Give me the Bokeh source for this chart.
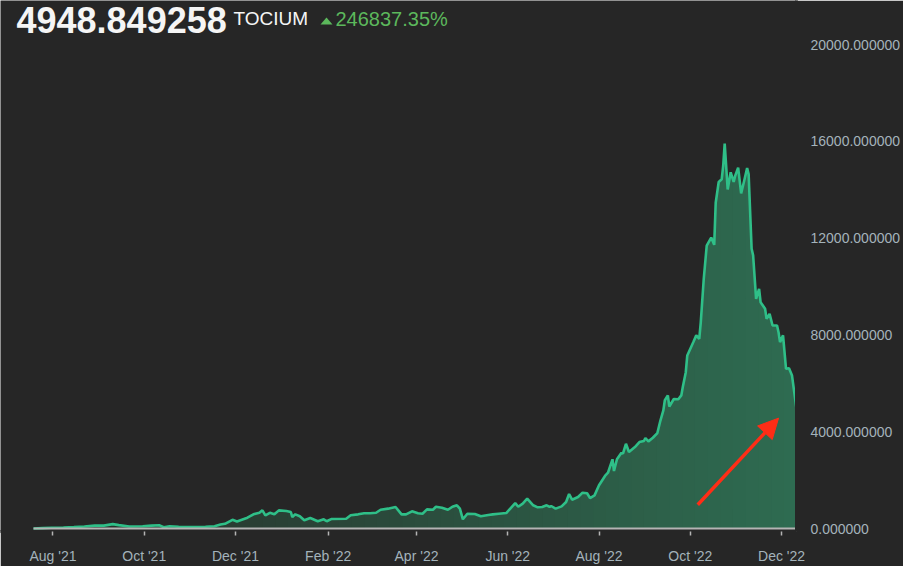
import numpy as np
import pandas as pd
from bokeh.plotting import figure
from bokeh.models import (Range1d, FixedTicker, DatetimeTickFormatter, PrintfTickFormatter,
                          Label, Arrow, NormalHead, PolyAnnotation)
from bokeh.embed import file_html
from bokeh.resources import INLINE

# price history
dates = [
    "2021-07-19", "2021-07-25", "2021-07-31", "2021-08-08", "2021-08-15", "2021-08-22", "2021-08-29",
    "2021-09-04", "2021-09-10", "2021-09-14", "2021-09-21", "2021-09-30",
    "2021-10-06", "2021-10-11", "2021-10-14", "2021-10-18", "2021-10-24", "2021-10-31",
    "2021-11-11", "2021-11-17", "2021-11-21", "2021-11-24", "2021-11-29",
    "2021-12-02", "2021-12-09", "2021-12-13", "2021-12-17", "2021-12-19", "2021-12-21", "2021-12-24",
    "2021-12-27", "2021-12-30",
    "2022-01-04", "2022-01-07", "2022-01-08", "2022-01-10", "2022-01-13", "2022-01-16", "2022-01-20",
    "2022-01-25", "2022-01-29", "2022-01-31",
    "2022-02-03", "2022-02-13", "2022-02-16", "2022-02-21", "2022-02-25",
    "2022-03-01", "2022-03-05", "2022-03-08", "2022-03-13", "2022-03-18", "2022-03-22", "2022-03-25",
    "2022-03-29",
    "2022-04-02", "2022-04-05", "2022-04-08", "2022-04-12", "2022-04-14", "2022-04-18", "2022-04-22",
    "2022-04-25", "2022-04-28", "2022-04-30",
    "2022-05-02", "2022-05-05", "2022-05-10", "2022-05-14", "2022-05-19", "2022-05-22", "2022-05-26",
    "2022-05-31",
    "2022-06-03", "2022-06-06", "2022-06-08", "2022-06-11", "2022-06-14", "2022-06-18", "2022-06-21",
    "2022-06-24", "2022-06-27", "2022-06-29", "2022-06-30",
    "2022-07-03", "2022-07-07", "2022-07-10", "2022-07-12", "2022-07-14", "2022-07-18", "2022-07-21",
    "2022-07-24", "2022-07-26", "2022-07-29",
    "2022-08-01", "2022-08-05", "2022-08-07", "2022-08-10", "2022-08-11", "2022-08-13", "2022-08-16",
    "2022-08-17", "2022-08-19", "2022-08-21", "2022-08-25", "2022-08-28", "2022-08-31",
    "2022-09-01", "2022-09-03", "2022-09-06", "2022-09-09", "2022-09-11", "2022-09-13", "2022-09-14",
    "2022-09-16", "2022-09-17", "2022-09-20", "2022-09-23", "2022-09-25", "2022-09-26", "2022-09-28",
    "2022-09-29",
    "2022-10-03", "2022-10-05", "2022-10-07", "2022-10-08", "2022-10-10", "2022-10-12", "2022-10-15",
    "2022-10-17", "2022-10-18", "2022-10-20", "2022-10-22", "2022-10-23", "2022-10-24", "2022-10-26",
    "2022-10-28", "2022-10-30", "2022-10-31",
    "2022-11-02", "2022-11-04", "2022-11-06", "2022-11-08", "2022-11-09", "2022-11-11", "2022-11-12",
    "2022-11-14", "2022-11-16", "2022-11-17", "2022-11-20", "2022-11-21", "2022-11-23", "2022-11-25",
    "2022-11-28", "2022-11-29", "2022-11-30",
    "2022-12-02", "2022-12-04", "2022-12-06", "2022-12-08", "2022-12-11",
]
prices = [
    2, 15, 28, 40, 55, 80, 120,
    120, 180, 140, 80, 95,
    120, 135, 55, 95, 70, 55,
    70, 95, 165, 195, 360,
    290, 445, 585, 650, 750, 545, 650, 585, 750,
    720, 680, 475, 585, 505, 340, 435, 300, 380, 300,
    390, 405, 545, 585, 630,
    630, 650, 775, 820, 890, 585, 585, 710,
    630, 610, 790, 775, 900, 860, 775, 900, 960, 820,
    380, 610, 600, 505, 560, 585, 610, 640,
    845, 1050, 900, 1025, 1230, 960, 875, 890, 960, 890, 930,
    820, 915, 1095, 1425, 1190, 1300, 1480, 1455, 1260, 1370,
    1785, 2170, 2305, 2860, 2375, 2860, 3130, 3090, 3500, 3160, 3365, 3570, 3615,
    3740, 3600, 3750, 3945, 4450, 4880, 5300, 5500, 5040, 5350, 5340, 5500, 5845, 6460, 7150,
    7700, 7980, 7840, 8510, 10310, 11690, 12020, 11720, 13460, 14320, 14430, 14980, 15910, 14010,
    14720, 14320, 14570,
    14910, 13850, 14360, 14890, 14650, 11560, 11290, 9490, 9900, 9350, 9080, 8660, 8870, 8390,
    8390, 8110, 7700,
    7980, 6600, 6620, 6320, 4948.849258,
]

tick_dates = ["2021-08-01", "2021-10-01", "2021-12-01", "2022-02-01", "2022-04-01",
              "2022-06-01", "2022-08-01", "2022-10-01", "2022-12-01"]
y_ticks = [0, 4000, 8000, 12000, 16000, 20000]

last_price = "4948.849258"
symbol = "TOCIUM"
change = "246837.35%"

# red annotation arrow (tail -> head)
arrow_start = ("2022-10-06", 980)
arrow_end = ("2022-11-29", 4560)

BG = "#262626"
LINE = "#2fbf88"
AXIS = "#b4b4b4"
AXIS_TEXT = "#a4b3bb"
GREEN_TXT = "#5cb85c"
FILL_LEFT, FILL_RIGHT = "#272c28", "#2e6c51"

# frame spans the whole left/top of the canvas so the headline is not clipped;
# the series starts DATA_LEFT px in, zero sits BASE_PAD px above the frame bottom
FRAME_W, FRAME_H, DATA_LEFT, BASE_PAD = 796, 531, 33, 3
PX_PER_20K = 484


def blend(c0, c1, t):
    a = [int(c0[i:i + 2], 16) for i in (1, 3, 5)]
    b = [int(c1[i:i + 2], 16) for i in (1, 3, 5)]
    return "#%02x%02x%02x" % tuple(round(a[k] + (b[k] - a[k]) * t) for k in range(3))


x = pd.to_datetime(dates)
tx = np.array([t.value // 10**6 for t in x], dtype=float)
t0, t1 = tx[0], tx[-1]
ms_per_px = (t1 - t0) / (FRAME_W - DATA_LEFT)
units_per_px = 20000 / PX_PER_20K

p = figure(x_axis_type="datetime", y_axis_location="right",
           frame_width=FRAME_W, frame_height=FRAME_H,
           min_border_left=0, min_border_top=0, min_border_right=103, min_border_bottom=33,
           x_range=Range1d(t0 - DATA_LEFT * ms_per_px, t1),
           y_range=Range1d(-BASE_PAD * units_per_px, (FRAME_H - BASE_PAD) * units_per_px),
           toolbar_location=None, tools="", output_backend="svg",
           background_fill_color=BG, border_fill_color=BG)
p.outline_line_color = None
p.grid.grid_line_color = None

# area under the curve in vertical bands, giving a left-to-right gradient
xs, ys, cols = [], [], []
bands = 60
edges = np.linspace(t0, t1, bands + 1)
for k in range(bands):
    a, b = edges[k], min(edges[k + 1] + 0.8 * ms_per_px, t1)
    inner = tx[(tx > a) & (tx < b)]
    bx = np.concatenate([[a], inner, [b]])
    by = np.interp(bx, tx, prices)
    xs.append(list(bx) + [b, a])
    ys.append(list(by) + [0, 0])
    cols.append(blend(FILL_LEFT, FILL_RIGHT, ((a + b) / 2 - t0) / (t1 - t0)))
p.patches(xs, ys, fill_color=cols, line_color=None)
p.line(x, prices, line_color=LINE, line_width=2.6)

# baseline under the series
p.line([x[0], x[-1]], [0, 0], line_color=AXIS, line_width=2)

# x axis: ticks and labels; its line only hides the frame seam
xa = p.xaxis[0]
xa.ticker = FixedTicker(ticks=[pd.Timestamp(d).value // 10**6 for d in tick_dates])
fmt = "%b '%y"
xa.formatter = DatetimeTickFormatter(days=fmt, months=fmt, years=fmt)
xa.axis_line_color = BG
xa.axis_line_width = 3
xa.major_tick_line_color = AXIS
xa.major_tick_line_width = 1.5
xa.major_tick_out = 4
xa.major_tick_in = 0
xa.minor_tick_line_color = None
xa.major_label_standoff = 12
xa.major_label_text_color = AXIS_TEXT
xa.major_label_text_font = "Liberation Sans"
xa.major_label_text_font_size = "14px"

# y axis on the right, labels only
ya = p.yaxis[0]
ya.ticker = FixedTicker(ticks=y_ticks)
ya.formatter = PrintfTickFormatter(format="%.6f")
ya.axis_line_color = BG
ya.axis_line_width = 3
ya.major_tick_line_color = None
ya.minor_tick_line_color = None
ya.major_tick_out = 0
ya.major_label_standoff = 14
ya.major_label_text_color = AXIS_TEXT
ya.major_label_text_font = "Liberation Sans"
ya.major_label_text_font_size = "14px"

# headline
p.add_layout(Label(x=16, y=512, x_units="screen", y_units="screen", text=last_price,
                   text_font="Liberation Sans", text_font_style="bold", text_font_size="36px",
                   text_color="#f5f5f5", text_baseline="alphabetic"))
p.add_layout(Label(x=233, y=513, x_units="screen", y_units="screen", text=symbol,
                   text_font="Liberation Sans", text_font_size="19px",
                   text_color="#f5f5f5", text_baseline="alphabetic"))
p.add_layout(PolyAnnotation(xs=[320, 332, 326], ys=[507, 507, 514],
                            xs_units="screen", ys_units="screen",
                            fill_color=GREEN_TXT, fill_alpha=1, line_color=None))
p.add_layout(Label(x=335, y=513, x_units="screen", y_units="screen", text=change,
                   text_font="Liberation Sans", text_font_size="20px",
                   text_color=GREEN_TXT, text_baseline="alphabetic"))

p.add_layout(Arrow(x_start=pd.Timestamp(arrow_start[0]), y_start=arrow_start[1],
                   x_end=pd.Timestamp(arrow_end[0]), y_end=arrow_end[1],
                   line_color="#ff2d16", line_width=3.5,
                   end=NormalHead(size=20, fill_color="#ff2d16", line_color="#ff2d16")))

open("out.html", "w").write(file_html(p, INLINE))
